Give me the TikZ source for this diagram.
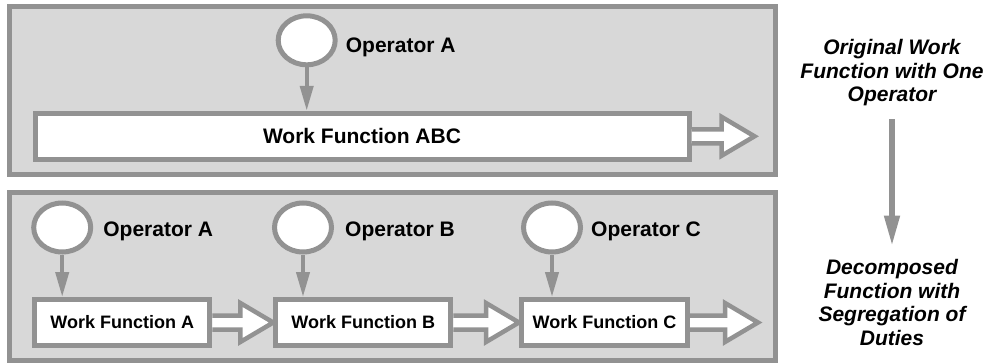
\documentclass[tikz,border=0pt]{standalone}
\usepackage{fontspec}
\setmainfont{Liberation Sans}
\usetikzlibrary{positioning,calc,arrows.meta,shapes.geometric}
\definecolor{rimgray}{RGB}{146,146,146}
\definecolor{bggray}{RGB}{216,216,216}
% hollow block arrow leaving the right side of a box
\newcommand{\handoff}[2]{%
  \draw[flow] ($(#1.east)+(0,-7)$) -- ($(#2)+(-33,-7)$) -- ($(#2)+(-33,-19.5)$)
    -- (#2) -- ($(#2)+(-33,19.5)$) -- ($(#2)+(-33,7)$) -- ($(#1.east)+(0,7)$);}
\begin{document}
\begin{tikzpicture}[x=1pt,y=-1pt,
  font=\fontsize{21}{23.5}\selectfont\bfseries,
  panel/.style={draw=rimgray,fill=bggray,line width=5pt},
  task/.style={draw=rimgray,fill=white,line width=5pt,inner sep=0pt,minimum height=46pt,minimum width=#1},
  subtask/.style={task=#1,font=\fontsize{18}{21}\selectfont\bfseries},
  person/.style={ellipse,draw=rimgray,fill=white,line width=5pt,inner sep=0pt,minimum width=57pt,minimum height=49pt},
  who/.style={inner sep=0pt},
  feed/.style={draw=rimgray,line width=4pt,-{Triangle[length=25pt,width=13pt]}},
  bigfeed/.style={draw=rimgray,line width=6pt,-{Triangle[length=31pt,width=14.5pt]},shorten <=13pt,shorten >=13pt},
  flow/.style={draw=rimgray,fill=white,line width=4.5pt,line join=miter},
  note/.style={align=center,inner sep=0pt,font=\fontsize{21}{23.5}\selectfont\bfseries\itshape}]
\useasboundingbox (0,0) rectangle (989,364);
\draw[panel] (9.5,6.5) rectangle (775.5,174);
\draw[panel] (9.5,192.5) rectangle (775.5,360.5);

\node[person] (op) at (306.7,40.3) {};
\node[who,right=8pt of op,yshift=-7pt] (oplab) {Operator A};
\node[task=654pt] (wfabc) at (362,136.3) {Work Function ABC};
\coordinate (abcout) at ([xshift=63pt]wfabc.east);
\draw[feed] (op) -- (op |- wfabc.north);
\handoff{wfabc}{abcout}

\node[person] (opa) at (62.2,227.5) {};
\node[person] (opb) at (303,227.5) {};
\node[person] (opc) at (552,227.5) {};
\node[who,right=10pt of opa,yshift=-4pt] (opalab) {Operator A};
\node[who,right=11pt of opb,yshift=-4pt] (opblab) {Operator B};
\node[who,right=8pt of opc,yshift=-4pt] (opclab) {Operator C};
\node[subtask=175pt] (wfa) at (122.3,322.5) {Work Function A};
\node[subtask=175pt] (wfb) at (363.3,322.5) {Work Function B};
\node[subtask=166pt] (wfc) at (604.5,322.5) {Work Function C};
\coordinate (cout) at ([xshift=68pt]wfc.east);
\draw[feed] (opa) -- (opa |- wfa.north);
\draw[feed] (opb) -- (opb |- wfb.north);
\draw[feed] (opc) -- (opc |- wfc.north);
\handoff{wfa}{wfb.west}
\handoff{wfb}{wfc.west}
\handoff{wfc}{cout}

\node[note] (orig) at (892,73) {Original Work\\Function with One\\Operator};
\node[note] (decomp) at (892,302.7) {Decomposed\\Function with\\Segregation of\\Duties};
\draw[bigfeed] (orig) -- (decomp);
\end{tikzpicture}
\end{document}
